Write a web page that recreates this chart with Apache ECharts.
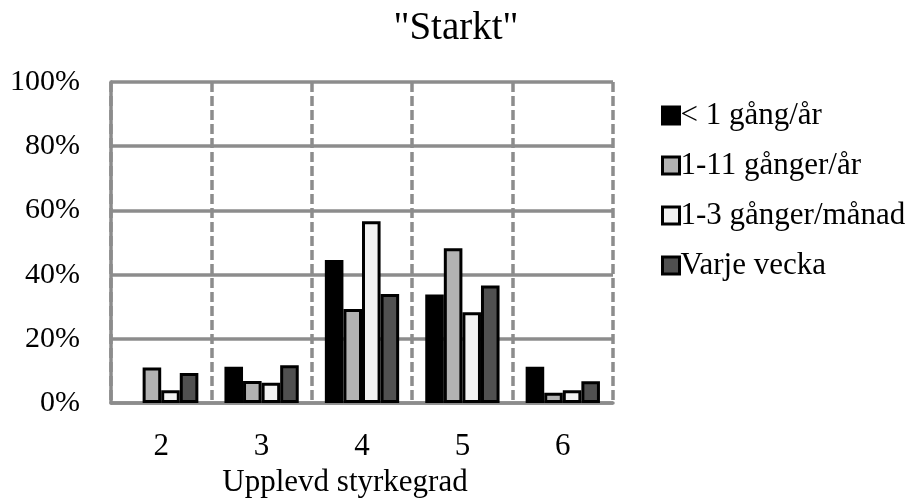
<!DOCTYPE html>
<html>
<head>
<meta charset="utf-8">
<script src="https://cdn.jsdelivr.net/npm/echarts@6/dist/echarts.min.js"></script>
<style>
html,body{margin:0;padding:0;background:#fff;}
#chart{width:912px;height:503px;}
</style>
</head>
<body>
<div id="chart"></div>
<script>
const categories = ['2', '3', '4', '5', '6'];
const seriesNames = ['< 1 gång/år', '1-11 gånger/år', '1-3 gånger/månad', 'Varje vecka'];
const lessThanOnce = [null, 11.3, 44.6, 33.8, 11.3];
const oneToEleven = [11.1, 6.9, 29.3, 48.2, 3.2];
const oneToThreeMonth = [4.0, 6.3, 56.6, 28.3, 4.0];
const everyWeek = [9.4, 11.8, 34.0, 36.6, 6.8];
const yTicks = [0, 20, 40, 60, 80, 100];
const titleText = '"Starkt"';
const xAxisTitle = 'Upplevd styrkegrad';

const fills = ['#000000', '#b2b2b2', '#f2f2f2', '#505050'];
const values = [lessThanOnce, oneToEleven, oneToThreeMonth, everyWeek];
const font = 'Liberation Serif, Times New Roman, serif';
const gridColor = '#8c8c8c';

const chart = echarts.init(document.getElementById('chart'), null, {renderer: 'canvas'});
chart.setOption({
  animation: false,
  backgroundColor: '#ffffff',
  title: {
    text: titleText,
    left: 'center',
    top: 4,
    textStyle: {fontFamily: font, fontSize: 39, fontWeight: 'normal', color: '#000'}
  },
  legend: {
    orient: 'vertical',
    left: 656,
    top: 95,
    itemWidth: 17,
    itemHeight: 17,
    itemGap: 19,
    icon: 'rect',
    textStyle: {fontFamily: font, fontSize: 31, color: '#000', padding: [0, 0, 0, -4], lineHeight: 31},
    itemStyle: {borderColor: '#000', borderWidth: 3},
    data: seriesNames
  },
  grid: {left: 111, right: 299, top: 82, bottom: 91},
  xAxis: {
    type: 'category',
    data: categories,
    boundaryGap: true,
    name: xAxisTitle,
    nameLocation: 'middle',
    nameGap: 61,
    nameTextStyle: {fontFamily: font, fontSize: 31, color: '#000', padding: [0, 34, 0, 0]},
    axisLine: {show: true, lineStyle: {color: gridColor, width: 3.5}},
    axisTick: {show: false},
    axisLabel: {fontFamily: font, fontSize: 31, color: '#000', margin: 28},
    splitLine: {show: true, lineStyle: {color: gridColor, width: 3.5, type: [10, 4]}}
  },
  yAxis: {
    type: 'value',
    min: 0,
    max: 100,
    interval: 20,
    axisLine: {show: true, lineStyle: {color: gridColor, width: 3.5}},
    axisTick: {show: false},
    axisLabel: {
      fontFamily: font, fontSize: 30, color: '#000', margin: 31,
      formatter: function (v) { return yTicks.indexOf(v) >= 0 ? v + '%' : ''; }
    },
    splitLine: {show: true, lineStyle: {color: gridColor, width: 3.5, type: 'solid'}}
  },
  series: seriesNames.map(function (name, i) {
    return {
      name: name,
      type: 'bar',
      data: values[i],
      barGap: '0%',
      barCategoryGap: '26%',
      itemStyle: {color: fills[i], borderColor: '#000', borderWidth: 3},
      emphasis: {disabled: true}
    };
  })
});
</script>
</body>
</html>
